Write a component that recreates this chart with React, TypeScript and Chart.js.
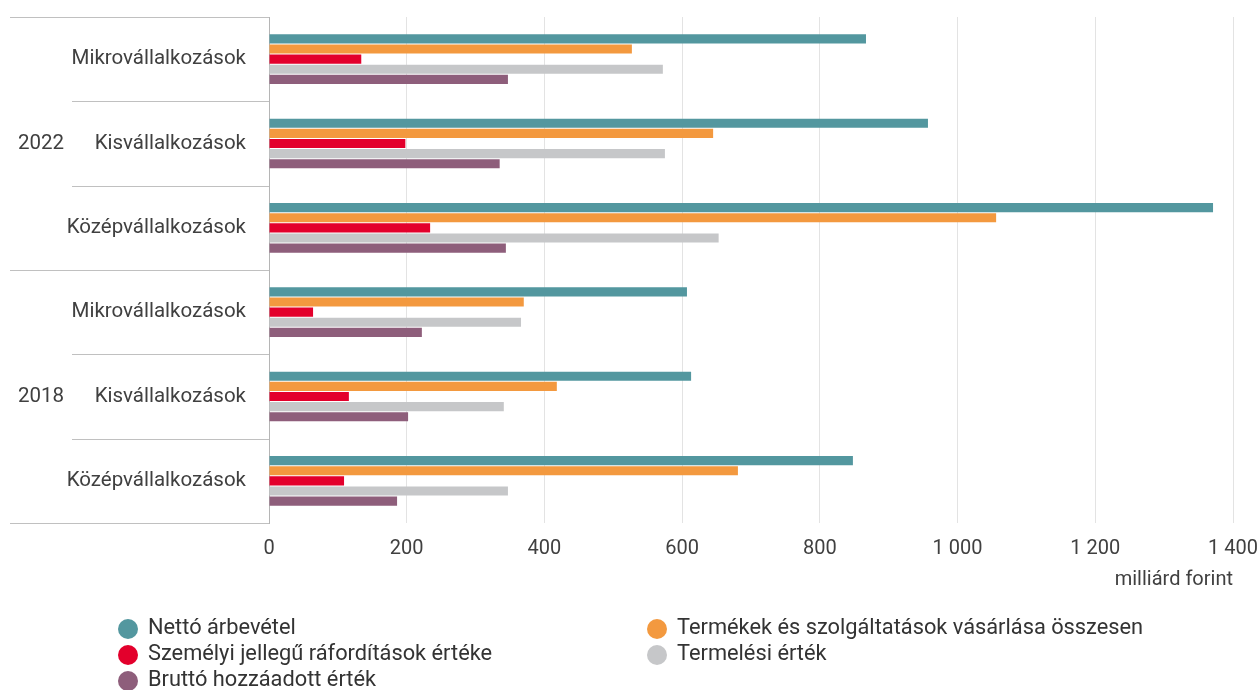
import React, { useEffect, useRef } from "react";
import { Chart, registerables } from "chart.js";

Chart.register(...registerables);

const categories = [
  "Mikrovállalkozások",
  "Kisvállalkozások",
  "Középvállalkozások",
  "Mikrovállalkozások",
  "Kisvállalkozások",
  "Középvállalkozások",
];
const years = ["2022", "2018"];
const groupSize = 3;

const seriesNames = [
  "Nettó árbevétel",
  "Termékek és szolgáltatások vásárlása összesen",
  "Személyi jellegű ráfordítások értéke",
  "Termelési érték",
  "Bruttó hozzáadott érték",
];
const seriesColors = ["#53979f", "#f3993f", "#e3002c", "#c6c7c9", "#8e5e7b"];

const netto = [867, 957, 1371, 607, 613, 848];
const termekek = [527, 645, 1056, 370, 418, 681];
const szemelyi = [134, 198, 234, 64, 116, 109];
const termelesi = [572, 575, 653, 366, 341, 347];
const brutto = [347, 335, 344, 222, 202, 186];

const xTicksMin = 0;
const xTicksMax = 1400;
const xTickStep = 200;
const xTitle = "milliárd forint";

const FONT = "Roboto";
const TEXT = "#404040";

const fmt = (v: number) => String(v).replace(/\B(?=(\d{3})+(?!\d))/g, " ");

const groupPlugin = {
  id: "groupPlugin",
  afterDraw(chart: any) {
    const { ctx, chartArea, scales } = chart;
    const y = scales.y;
    const n = categories.length;
    const bounds: number[] = [chartArea.top];
    for (let i = 0; i < n - 1; i++) {
      bounds.push((y.getPixelForValue(i) + y.getPixelForValue(i + 1)) / 2);
    }
    bounds.push(chartArea.bottom);
    ctx.save();
    ctx.strokeStyle = "#c0c0c0";
    ctx.lineWidth = 1;
    bounds.forEach((b, i) => {
      const long = i % groupSize === 0;
      const x0 = long ? 10 : 72;
      const yy = Math.round(b) + 0.5;
      ctx.beginPath();
      ctx.moveTo(x0, yy);
      ctx.lineTo(chartArea.left, yy);
      ctx.stroke();
    });
    ctx.fillStyle = TEXT;
    ctx.font = `20.5px ${FONT}`;
    ctx.textAlign = "left";
    ctx.textBaseline = "middle";
    years.forEach((yr, g) => {
      const mid = (bounds[g * groupSize] + bounds[(g + 1) * groupSize]) / 2;
      ctx.fillText(yr, 18, mid);
    });
    ctx.restore();
  },
};

const legendPlugin = {
  id: "customLegend",
  afterDraw(chart: any) {
    const { ctx } = chart;
    const colX = [128, 657];
    const rowY = [629, 655, 681];
    ctx.save();
    ctx.font = `21.8px ${FONT}`;
    ctx.textBaseline = "middle";
    ctx.textAlign = "left";
    chart.data.datasets.forEach((ds: any, i: number) => {
      const cx = colX[i % 2];
      const cy = rowY[Math.floor(i / 2)];
      ctx.fillStyle = ds.backgroundColor;
      ctx.beginPath();
      ctx.arc(cx, cy, 10, 0, Math.PI * 2);
      ctx.fill();
      ctx.fillStyle = "#333";
      ctx.fillText(ds.label, cx + 20, cy);
    });
    ctx.restore();
  },
};

export default function App() {
  const ref = useRef<HTMLCanvasElement>(null);
  useEffect(() => {
    if (!ref.current) return;
    const values = [netto, termekek, szemelyi, termelesi, brutto];
    const chart = new Chart(ref.current, {
      type: "bar",
      data: {
        labels: categories,
        datasets: values.map((v, i) => ({
          label: seriesNames[i],
          data: v,
          backgroundColor: seriesColors[i],
          borderWidth: 0,
          categoryPercentage: 0.6,
          barPercentage: 0.9,
        })),
      },
      options: {
        indexAxis: "y",
        animation: false,
        responsive: false,
        devicePixelRatio: 1,
        layout: { padding: { top: 17, right: 27, left: 0, bottom: 0 } },
        plugins: {
          legend: { display: false },
          tooltip: { enabled: false },
        },
        scales: {
          x: {
            min: xTicksMin,
            max: xTicksMax,
            ticks: {
              stepSize: xTickStep,
              color: TEXT,
              font: { family: FONT, size: 20 },
              padding: 14,
              maxRotation: 0,
              callback: (v: any) => fmt(Number(v)),
            },
            grid: { color: "#e3e3e3", lineWidth: 1, drawTicks: false },
            border: { display: false },
            title: {
              display: true,
              text: xTitle,
              align: "end",
              color: TEXT,
              font: { family: FONT, size: 20 },
              padding: { top: 0, bottom: 98 },
            },
            afterFit: (s: any) => {
              s.height = 167;
              s.paddingLeft = 0;
              s.paddingRight = 0;
            },
          },
          y: {
            ticks: {
              color: TEXT,
              font: { family: FONT, size: 20.5 },
              padding: 23,
            },
            grid: { display: false, drawTicks: false },
            border: { display: true, color: "#b5b5b5", width: 1 },
            afterFit: (s: any) => {
              s.width = 269;
              s.paddingTop = 0;
              s.paddingBottom = 0;
            },
          },
        },
      } as any,
      plugins: [groupPlugin, legendPlugin],
    });
    return () => chart.destroy();
  }, []);
  return (
    <div style={{ position: "fixed", left: 0, top: 0, width: 1260, height: 690, background: "#fff" }}>
      <canvas ref={ref} width={1260} height={690} style={{ display: "block" }} />
    </div>
  );
}
